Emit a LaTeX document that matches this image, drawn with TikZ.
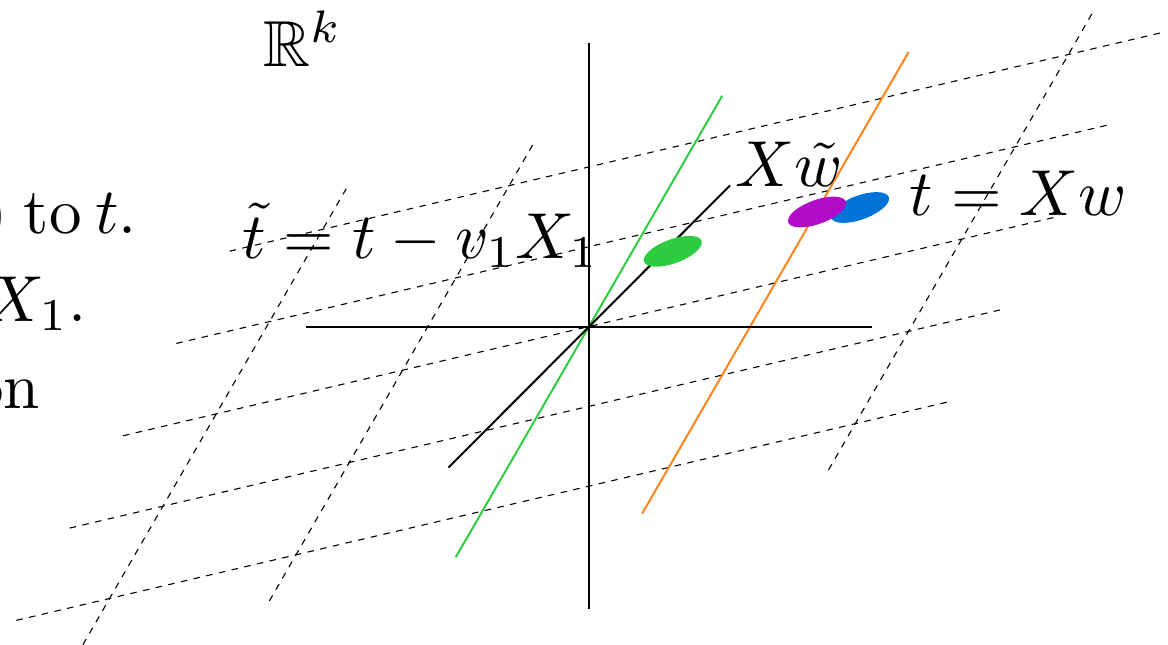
\documentclass[tikz,border=0pt]{standalone}
\usepackage{graphicx}
\usepackage{amssymb}
\definecolor{cgreen}{HTML}{2ECC40}
\definecolor{corange}{HTML}{FF851B}
\definecolor{cblue}{HTML}{0074D9}
\definecolor{cpurple}{HTML}{B10DC9}
\newcommand{\sbx}[1]{\scalebox{6.5}{#1}}
\begin{document}
\begin{tikzpicture}[x=1pt,y=-1pt,
  gridline/.style={black,line width=1.1pt,dash pattern=on 6.5pt off 6.5pt},
  axisline/.style={black,line width=2pt},
  colline/.style={line width=2pt},
  lbl/.style={inner sep=0pt,font=\fontsize{10}{12}\selectfont}]
\useasboundingbox (0,0) rectangle (1168,645);
% lattice of dashed lines
\begin{scope}[shift={(589,326.5)},x={(186.4pt,43.7pt)},y={(53.3pt,92.3pt)}]
  \foreach \j in {-2,-1,0,1,2}{\draw[gridline] (-2.5,\j) -- (2.5,\j);}
  \foreach \k in {-2,-1,2}{\draw[gridline] (\k,-2.5) -- (\k,2.5);}
  \draw[colline,cgreen] (0,-2.5) -- (0,2.5);
  \draw[colline,corange] (1,-2.5) -- (1,2.5);
\end{scope}
% axes
\draw[axisline] (589,43) -- (589,609);
\draw[axisline] (306,326.5) -- (872,326.5);
\draw[axisline] (448.5,467.5) -- (730,185.5);
% blobs
\fill[cgreen,rotate around={20:(672.8,251.3)}] (672.8,251.3) ellipse [x radius=30.6,y radius=12];
\fill[cblue,rotate around={20:(860,207.5)}] (860,207.5) ellipse [x radius=30.6,y radius=12];
\fill[cpurple,rotate around={20:(817,212)}] (817,212) ellipse [x radius=30.6,y radius=12];
% labels
\node[lbl,anchor=base west] (Rk) at (263,66) {\sbx{$\mathbb{R}^k$}};
\node[lbl,anchor=base] (tt) at (420.5,258) {\sbx{$\tilde t = t - v_1 X_1$}};
\node[lbl,anchor=base] (xw) at (789.5,186) {\sbx{$X\tilde w$}};
\node[lbl,anchor=base] (tx) at (1018.5,215) {\sbx{$t = Xw$}};
\node[lbl,anchor=base east] (l1) at (137,233) {\sbx{)\kern2.5pt to\kern2.1pt$t$.}};
\node[lbl,anchor=base east] (l2) at (87,321) {\sbx{$X_1$.}};
\node[lbl,anchor=base east] (l3) at (40,408) {\sbx{on}};
\end{tikzpicture}
\end{document}
